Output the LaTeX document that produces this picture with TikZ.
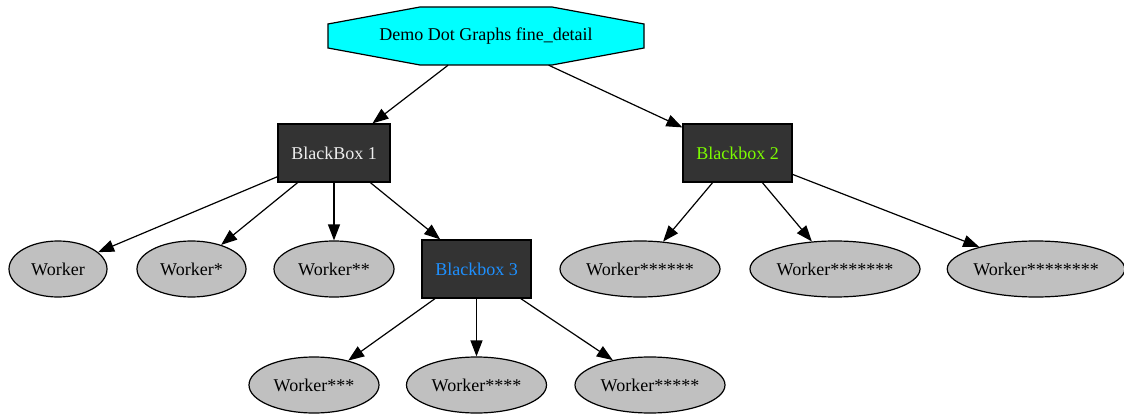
\documentclass[tikz,border=0pt]{standalone}
\usepackage{fontspec}
\setmainfont{Liberation Serif}
\usetikzlibrary{shapes.geometric,arrows.meta,backgrounds}
\definecolor{boxfill}{HTML}{333333}
\definecolor{workerfill}{HTML}{C0C0C0}
\definecolor{titlefill}{HTML}{00FFFF}
\definecolor{lightlabel}{HTML}{EEEEEE}
\definecolor{greenlabel}{HTML}{7CFC00}
\definecolor{bluelabel}{HTML}{1E90FF}
\tikzset{
  every node/.style={font=\fontsize{18}{20}\selectfont},
  blackbox/.style={rectangle, draw=black, fill=boxfill, line width=1.2pt,
    minimum height=58pt, inner sep=0pt},
  worker/.style={ellipse, draw=black, fill=workerfill, line width=1.2pt,
    minimum height=56pt, inner sep=0pt},
  link/.style={draw=black, line width=1.2pt,
    -{Triangle[length=16pt,width=12pt]}},
}
\begin{document}
\begin{tikzpicture}[x=1pt,y=-1pt]
\useasboundingbox (0,0) rectangle (1124,414);

% title (octagon outline drawn behind its label)
\node[rectangle, minimum width=316pt, minimum height=58pt, inner sep=0pt]
  (title) at (486,36) {Demo Dot Graphs fine\_detail};
\begin{pgfonlayer}{background}
  \draw[fill=titlefill, line width=1.2pt]
    (420,7) -- (552,7) -- (644,24) -- (644,48) -- (552,65)
    -- (420,65) -- (328,48) -- (328,24) -- cycle;
\end{pgfonlayer}

% black boxes
\node[blackbox, minimum width=112pt, text=lightlabel] (bb1) at (334,153) {BlackBox 1};
\node[blackbox, minimum width=109pt, text=greenlabel] (bb2) at (737.5,153) {Blackbox 2};
\node[blackbox, minimum width=109pt, text=bluelabel] (bb3) at (476.5,269) {Blackbox 3};

% workers
\node[worker, minimum width=98pt]  (w0) at (58,269)    {Worker};
\node[worker, minimum width=109pt] (w1) at (191.5,269) {Worker*};
\node[worker, minimum width=120pt] (w2) at (334,269)   {Worker**};
\node[worker, minimum width=130pt] (w3) at (314,385)   {Worker***};
\node[worker, minimum width=140pt] (w4) at (476.5,385) {Worker****};
\node[worker, minimum width=150pt] (w5) at (650,385)   {Worker*****};
\node[worker, minimum width=160pt] (w6) at (640,269)   {Worker******};
\node[worker, minimum width=170pt] (w7) at (835,269)   {Worker*******};
\node[worker, minimum width=174pt] (w8) at (1036,269)  {Worker********};

% connectors
\draw[link] (title) -- (bb1);
\draw[link] (title) -- (bb2);
\draw[link] (bb1) -- (w0);
\draw[link] (bb1) -- (w1);
\draw[link] (bb1) -- (w2);
\draw[link] (bb1) -- (bb3);
\draw[link] (bb3) -- (w3);
\draw[link] (bb3) -- (w4);
\draw[link] (bb3) -- (w5);
\draw[link] (bb2) -- (w6);
\draw[link] (bb2) -- (w7);
\draw[link] (bb2) -- (w8);
\end{tikzpicture}
\end{document}
